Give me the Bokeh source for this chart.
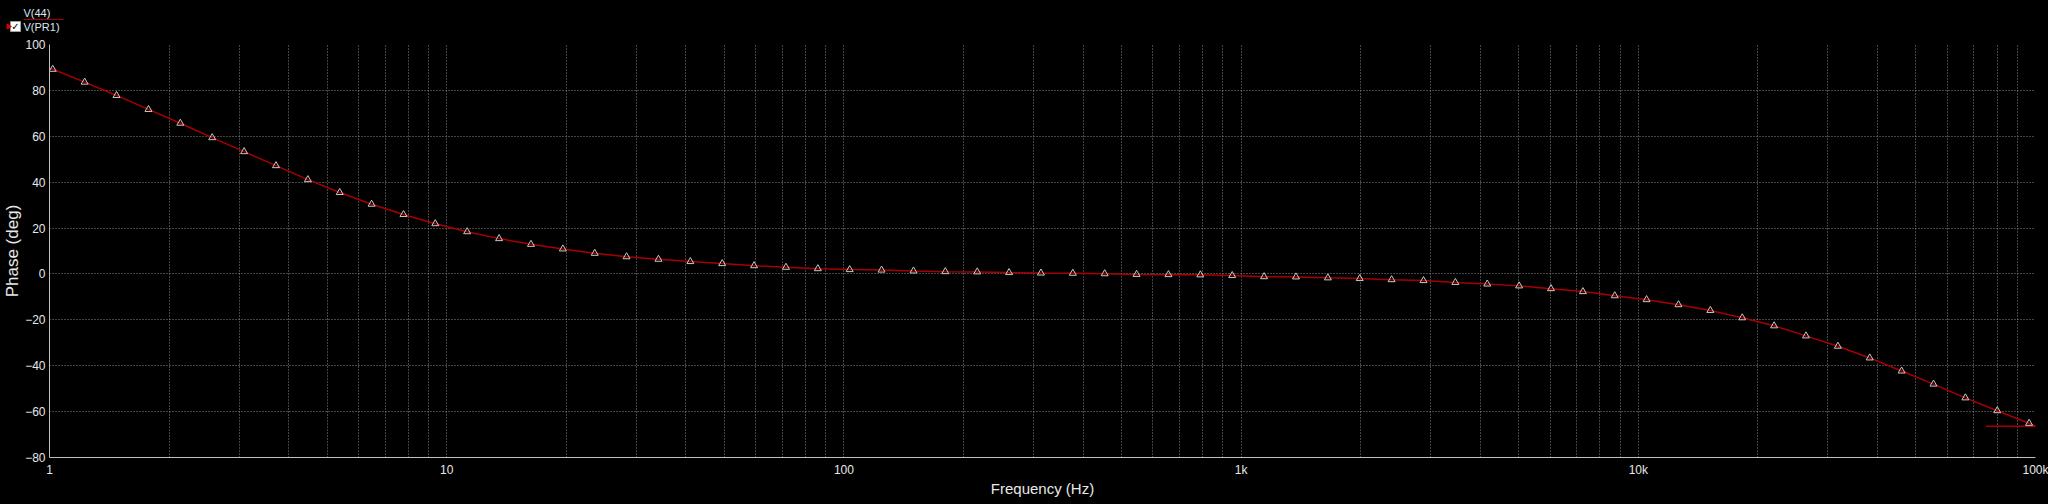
import math
from bokeh.plotting import figure
from bokeh.layouts import column
from bokeh.models import FixedTicker, CustomJSTickFormatter, Range1d
from bokeh.embed import file_html
from bokeh.resources import INLINE
from bokeh.core.properties import value

# ---------------- data ----------------
marker_freq_hz = [
    1.019, 1.226, 1.475, 1.775, 2.135, 2.568, 3.090, 3.717, 4.472, 5.379,
    6.471, 7.785, 9.361, 11.26, 13.55, 16.30, 19.61, 23.59, 28.37, 34.13,
    41.06, 49.39, 59.41, 71.47, 85.98, 103.4, 124.4, 149.7, 180.0, 216.6,
    260.5, 313.4, 377.0, 453.5, 545.6, 656.3, 789.6, 949.8, 1142.6, 1374.6,
    1653.6, 1989.0, 2393.0, 2879.0, 3463.0, 4166.0, 5012.0, 6029.0, 7253.0, 8725.0,
    10491.0, 12623.0, 15185.0, 18268.0, 21974.0, 26435.0, 31800.0, 38254.0, 46017.0, 55357.0,
    66592.0, 80108.0, 96360.0,
]
marker_phase_deg = [
    89.2, 83.6, 77.8, 71.7, 65.7, 59.4, 53.3, 47.2, 41.1, 35.5,
    30.4, 25.9, 21.9, 18.4, 15.4, 12.9, 10.9, 9.0, 7.5, 6.4,
    5.4, 4.5, 3.6, 2.9, 2.3, 1.9, 1.7, 1.3, 1.0, 0.9,
    0.6, 0.4, 0.3, 0.1, -0.2, -0.3, -0.4, -0.7, -1.2, -1.3,
    -1.7, -2.0, -2.5, -2.9, -3.7, -4.4, -5.2, -6.4, -7.7, -9.5,
    -11.2, -13.4, -15.9, -19.1, -22.6, -27.0, -31.5, -36.6, -42.3, -48.0,
    -54.0, -59.6, -65.1,
]
trace_start_freq_hz = 1.0
trace_start_phase_deg = 89.7
trace_end_freq_hz = 100000.0
trace_end_phase_deg = -66.4

stub_freq_hz = [75000.0, 100000.0]
stub_phase_deg = [-66.4, -66.4]

x_major_ticks = [1, 10, 100, 1000, 10000, 100000]
x_major_labels = ["1", "10", "100", "1k", "10k", "100k"]
x_minor_ticks = [m * d for d in [1, 10, 100, 1000, 10000] for m in range(2, 10)]
y_ticks = [-80, -60, -40, -20, 0, 20, 40, 60, 80, 100]

legend_names = ["V(44)", "V(PR1)"]
x_axis_title = "Frequency (Hz)"
y_axis_title = "Phase (deg)"

# ---------------- styling ----------------
BG = "#000000"
GRID = "#8a8a8a"
AXIS = "#c0c0c0"
TXT = "#e8e8e8"
LEG_TXT = "#dce6f0"
TRACE = "#a80000"
MARK = "#c8c8c8"
FONT = "Liberation Sans"

W = 2048
LEG_H = 36
MAIN_H = 468

# ---------------- legend strip (top) ----------------
leg = figure(
    width=W, height=LEG_H,
    x_range=Range1d(0, W), y_range=Range1d(LEG_H, 0),
    x_axis_location=None, y_axis_location=None,
    output_backend="svg", toolbar_location=None,
    min_border_left=0, min_border_right=0, min_border_top=0, min_border_bottom=0,
    background_fill_color=BG, border_fill_color=BG,
)
leg.frame_align = False
leg.outline_line_color = None
leg.grid.visible = False
leg.text(x=[23], y=[12.5], text=[legend_names[0]], text_font=value(FONT),
         text_font_size="11px", text_color=LEG_TXT, text_align="left",
         text_baseline="middle")
leg.segment(x0=[23], y0=[19], x1=[63], y1=[19], line_color=TRACE, line_width=1)
leg.quad(left=[10], right=[20], top=[21], bottom=[31], fill_color="#ffffff",
         line_color="#a0a0a0", line_width=1)
leg.text(x=[15], y=[26], text=["\u2713"], text_font=value("DejaVu Sans"),
         text_font_size="10px", text_color="#000000", text_align="center",
         text_baseline="middle")
leg.scatter(x=[8], y=[26], marker="triangle", angle=-math.pi / 2, size=5,
            fill_color="#e00000", line_color="#e00000")
leg.text(x=[23], y=[26], text=[legend_names[1]], text_font=value(FONT),
         text_font_size="11px", text_color=LEG_TXT, text_align="left",
         text_baseline="middle")

# ---------------- main plot ----------------
p = figure(
    width=W, height=MAIN_H,
    x_axis_type="log", x_range=(1, 100000), y_range=(-80, 100),
    output_backend="svg", toolbar_location=None,
    min_border_left=49, min_border_right=13, min_border_top=8, min_border_bottom=47,
    background_fill_color=BG, border_fill_color=BG,
)
p.frame_align = False
p.outline_line_color = None

line_freq = [trace_start_freq_hz] + marker_freq_hz + [trace_end_freq_hz]
line_phase = [trace_start_phase_deg] + marker_phase_deg + [trace_end_phase_deg]
p.line(line_freq, line_phase, line_color=TRACE, line_width=1.5)
p.line(stub_freq_hz, stub_phase_deg, line_color=TRACE, line_width=1.5)
p.scatter(marker_freq_hz, marker_phase_deg, marker="triangle", size=7,
          line_color=MARK, fill_color=None, line_width=1)

p.xaxis.ticker = FixedTicker(ticks=x_major_ticks, minor_ticks=x_minor_ticks)
p.xaxis.formatter = CustomJSTickFormatter(
    args=dict(major_vals=x_major_ticks, major_txt=x_major_labels),
    code="""
    for (let i = 0; i < major_vals.length; i++) {
        if (Math.abs(major_vals[i] - tick) < 1e-6 * major_vals[i]) return major_txt[i];
    }
    return '';
    """,
)
p.yaxis.ticker = FixedTicker(ticks=y_ticks)
for ax in (p.xaxis, p.yaxis):
    ax.axis_line_color = AXIS
    ax.axis_line_width = 1
    ax.major_tick_line_color = None
    ax.minor_tick_line_color = None
    ax.major_tick_out = 0
    ax.major_tick_in = 0
    ax.minor_tick_out = 0
    ax.minor_tick_in = 0
    ax.major_label_text_color = TXT
    ax.major_label_text_font = FONT
    ax.major_label_text_font_size = "12px"
    ax.axis_label_text_color = TXT
    ax.axis_label_text_font = FONT
    ax.axis_label_text_font_style = "normal"
p.xaxis.axis_label = x_axis_title
p.yaxis.axis_label = y_axis_title
p.xaxis.axis_label_text_font_size = "15px"
p.yaxis.axis_label_text_font_size = "17px"
p.xaxis.major_label_standoff = 5
p.yaxis.major_label_standoff = 4
p.xaxis.axis_label_standoff = 0
p.yaxis.axis_label_standoff = 0

p.xgrid.grid_line_color = GRID
p.xgrid.grid_line_dash = "1 2"
p.xgrid.minor_grid_line_color = GRID
p.xgrid.minor_grid_line_dash = "1 2"
p.ygrid.grid_line_color = GRID
p.ygrid.grid_line_dash = "1 2"

layout = column(leg, p, spacing=0)

html = file_html(layout, INLINE)
html = html.replace("</head>", "<style>html,body{background:#000000;}</style></head>", 1)
open("out.html", "w").write(html)
